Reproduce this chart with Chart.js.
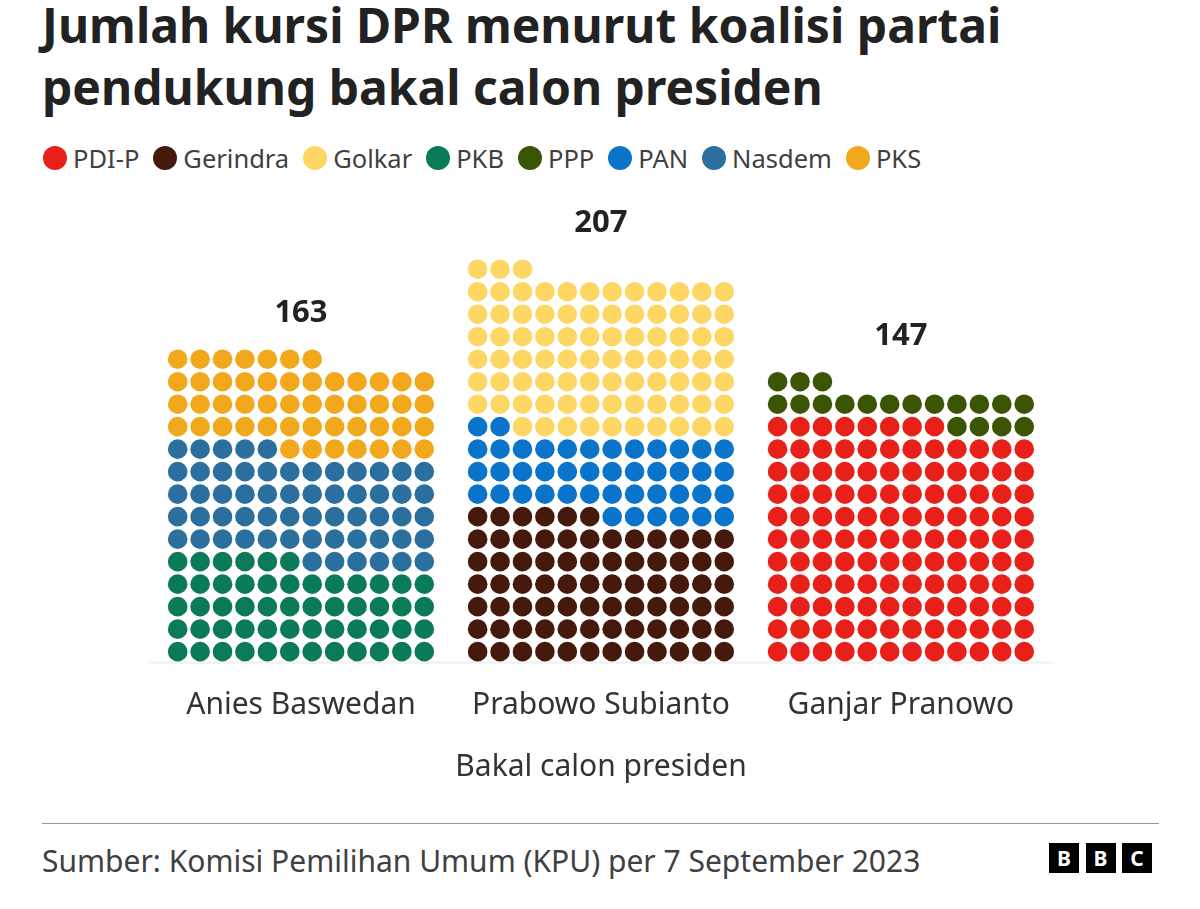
<!DOCTYPE html>
<html lang="id">
<head>
<meta charset="utf-8">
<title>Jumlah kursi DPR</title>
<script src="https://cdn.jsdelivr.net/npm/chart.js@4"></script>
<style>
  html, body { margin: 0; background: #fff; }
  body { width: 1200px; height: 909px; position: relative; overflow: hidden; font-family: "Noto Sans", sans-serif; }
  h1 { position: absolute; left: 42px; top: -6px; margin: 0; font-size: 48px; line-height: 62px; font-weight: 700; color: #222; white-space: nowrap; }
  #legend { position: absolute; left: 43px; top: 143px; display: flex; font-size: 25.5px; line-height: 30px; color: #404040; }
  #legend span.item { display: flex; align-items: center; margin-right: 14px; }
  #legend i { display: block; width: 24px; height: 24px; border-radius: 50%; margin-right: 6px; }
  #wrap { position: absolute; left: 0; top: 190px; }
  #rule { position: absolute; left: 42px; top: 823px; width: 1117px; height: 1px; background: #999; }
  #source { position: absolute; left: 42px; top: 842px; font-size: 30px; line-height: 38px; color: #404040; white-space: nowrap; }
  #logo { position: absolute; left: 1049px; top: 843px; display: flex; gap: 6.5px; }
  #logo b { display: block; width: 30px; height: 30px; background: #000; color: #fff; font-size: 21px; line-height: 30px; text-align: center; }
</style>
</head>
<body>
<h1>Jumlah kursi DPR menurut koalisi partai<br>pendukung bakal calon presiden</h1>
<div id="legend"></div>
<div id="wrap"><canvas id="chart" width="1200" height="600"></canvas></div>
<div id="rule"></div>
<div id="source">Sumber: Komisi Pemilihan Umum (KPU) per 7 September 2023</div>
<div id="logo"><b>B</b><b>B</b><b>C</b></div>
<script>
// Data kursi per koalisi
const candidates = ['Anies Baswedan', 'Prabowo Subianto', 'Ganjar Pranowo'];
const parties = ['PDI-P', 'Gerindra', 'Golkar', 'PKB', 'PPP', 'PAN', 'Nasdem', 'PKS'];
const partyColors = ['#e8201a', '#451a0c', '#fdd663', '#0a7a58', '#3b5504', '#0a74cb', '#2a6f9e', '#f2a81d'];
const pdip = [0, 0, 128];
const gerindra = [0, 78, 0];
const golkar = [0, 85, 0];
const pkb = [54, 0, 0];
const ppp = [0, 0, 19];
const pan = [0, 44, 0];
const nasdem = [59, 0, 0];
const pks = [50, 0, 0];
const seats = [pdip, gerindra, golkar, pkb, ppp, pan, nasdem, pks];
// Urutan tumpukan dari bawah ke atas
const stackOrder = ['PDI-P', 'PPP', 'Gerindra', 'PAN', 'Golkar', 'PKB', 'Nasdem', 'PKS'];
const axisTitle = 'Bakal calon presiden';

const PER_ROW = 12;
const GROUP_STEP = 13.38; // jarak antar kelompok, dalam satuan titik

// Satu kursi = satu titik, diisi per baris dari kiri bawah
const points = parties.map(() => []);
const totals = candidates.map((c, g) => {
    let filled = 0;
    stackOrder.forEach(name => {
        const p = parties.indexOf(name);
        for (let k = 0; k < seats[p][g]; k++) {
            points[p].push({ x: g * GROUP_STEP + filled % PER_ROW, y: Math.floor(filled / PER_ROW) });
            filled++;
        }
    });
    return filled;
});

// Legenda
const legend = document.getElementById('legend');
parties.forEach((name, p) => {
    const item = document.createElement('span');
    item.className = 'item';
    item.innerHTML = `<i style="background:${partyColors[p]}"></i>${name}`;
    legend.appendChild(item);
});

const groupCenter = g => (PER_ROW - 1) / 2 + g * GROUP_STEP;

// Angka total di atas tiap kelompok
const totalLabels = {
    id: 'totalLabels',
    afterDatasetsDraw(chart) {
        const { ctx, scales } = chart;
        ctx.save();
        ctx.font = '700 31px "Noto Sans"';
        ctx.fillStyle = '#222';
        ctx.textAlign = 'center';
        ctx.textBaseline = 'middle';
        totals.forEach((total, g) => {
            const topRow = Math.floor((total - 1) / PER_ROW);
            ctx.fillText(total, scales.x.getPixelForValue(groupCenter(g)), scales.y.getPixelForValue(topRow + 2.03));
        });
        ctx.restore();
    }
};

new Chart(document.getElementById('chart'), {
    type: 'scatter',
    data: {
        datasets: parties.map((name, p) => ({
            label: name,
            data: points[p],
            backgroundColor: partyColors[p],
            borderWidth: 0,
            pointRadius: 9.8,
            pointHoverRadius: 9.8,
            clip: false
        }))
    },
    options: {
        responsive: false,
        animation: false,
        events: [],
        layout: { autoPadding: false, padding: { left: 150, right: 148, top: 0, bottom: 0 } },
        plugins: { legend: { display: false }, tooltip: { enabled: false } },
        scales: {
            x: {
                type: 'linear',
                min: -1.235,
                max: 39,
                afterBuildTicks: scale => {
                    scale.ticks = candidates.map((c, g) => ({ value: groupCenter(g) }));
                },
                afterFit: scale => { scale.height = 128; },
                ticks: {
                    callback: (v, i) => candidates[i],
                    autoSkip: false,
                    maxRotation: 0,
                    padding: 25,
                    color: '#333',
                    font: { family: '"Noto Sans"', size: 30 }
                },
                grid: { display: false, drawTicks: false },
                border: { color: '#f4f4f4', width: 3 },
                title: {
                    display: true,
                    text: axisTitle,
                    color: '#333',
                    font: { family: '"Noto Sans"', size: 30 },
                    padding: { top: 0, bottom: 5 }
                }
            },
            y: { display: false, min: -0.46, max: 20.52 }
        }
    },
    plugins: [totalLabels]
});
</script>
</body>
</html>
